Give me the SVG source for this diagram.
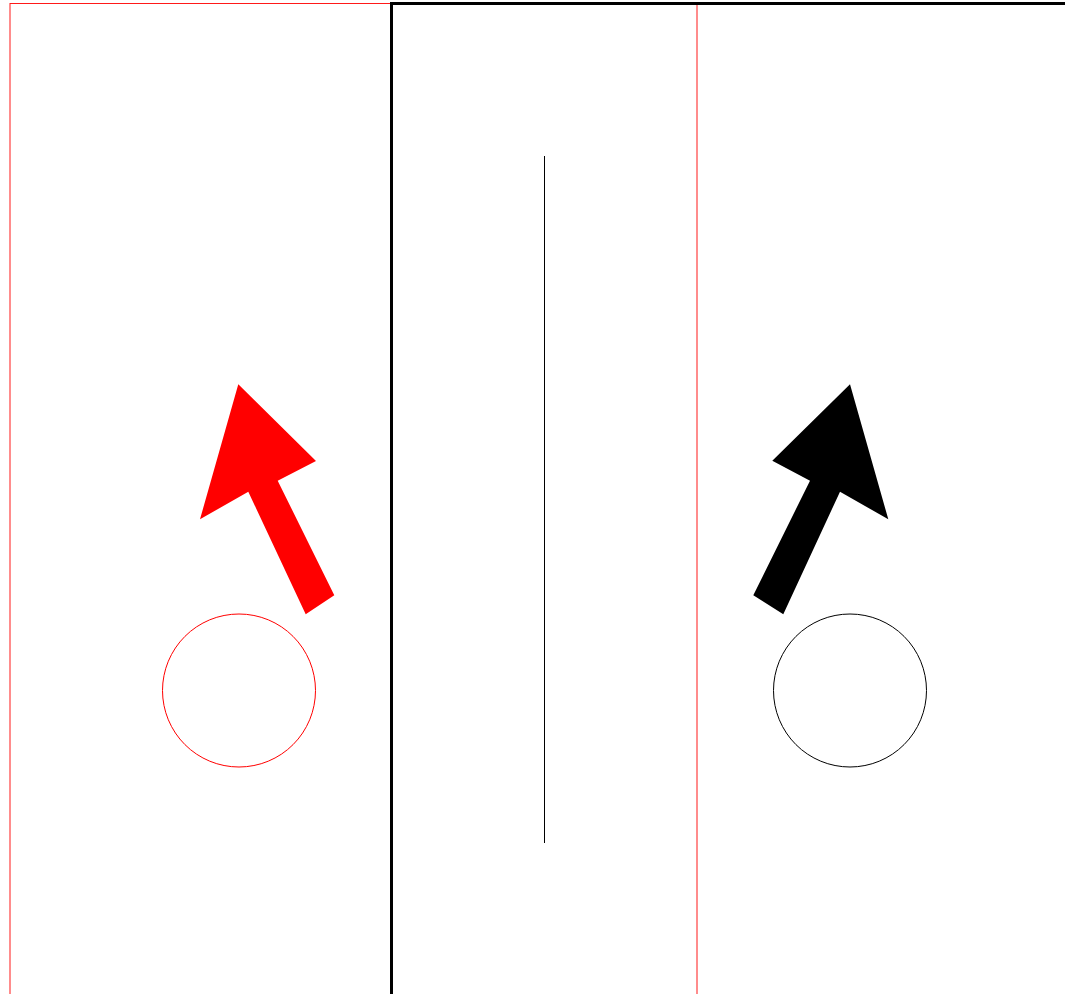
<svg xmlns="http://www.w3.org/2000/svg" width="1065" height="994" viewBox="0 0 1065 994">
<style>
.frame-red{fill:none;stroke:#ff0000;stroke-width:1}
.frame-black{fill:none;stroke:#000;stroke-width:3}
</style>
<rect width="1065" height="994" fill="#fff"/>
<g id="red-frame"><rect class="frame-red" x="10" y="3.5" width="687" height="1100" stroke-opacity="0.9"/></g>
<g id="black-frame"><rect class="frame-black" x="391.5" y="3.5" width="800" height="1100"/></g>
<g id="center-line"><line x1="544.5" y1="156" x2="544.5" y2="843" stroke="#000" stroke-width="1"/></g>
<g id="red-arrow"><polygon fill="#ff0000" points="238.3,384.3 316,461 277.7,480.7 334.3,595.3 305.7,614.3 248.3,491.7 200,519.3"/></g>
<g id="black-arrow"><polygon fill="#000" points="850,384.3 888.3,519.3 840,491.7 783.3,614.3 753.3,595.3 810,480.7 772.3,460.7"/></g>
<g id="red-circle"><circle cx="239" cy="690.5" r="76.5" fill="none" stroke="#ff0000" stroke-width="1"/></g>
<g id="black-circle"><circle cx="850" cy="690.5" r="76.5" fill="none" stroke="#000" stroke-width="1"/></g>
</svg>
